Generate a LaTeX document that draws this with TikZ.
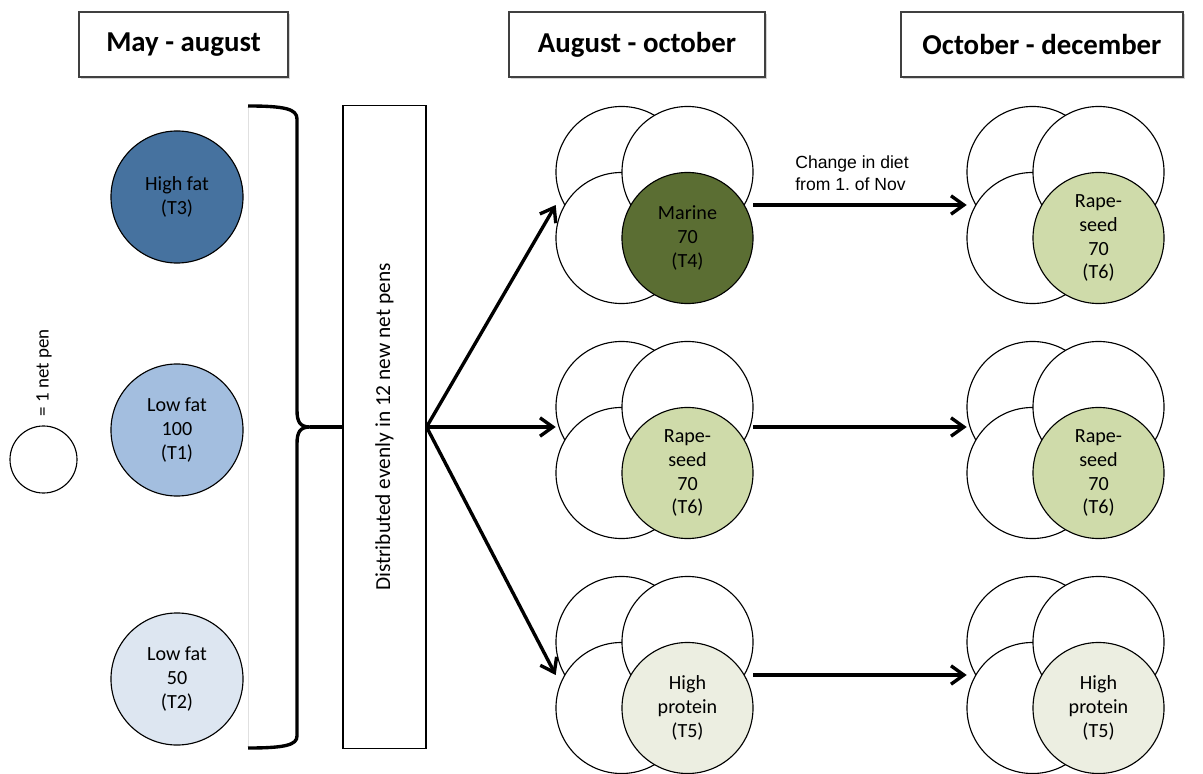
\documentclass[tikz,border=0pt]{standalone}
\usepackage{fontspec}
\setmainfont{Carlito}
\newfontfamily\arialfont{Liberation Sans}
\usepackage{tikz}
\usetikzlibrary{positioning, arrows.meta, calc, shadows}

\definecolor{hifat}{HTML}{46729F}
\definecolor{lofatA}{HTML}{A3BEDF}
\definecolor{lofatB}{HTML}{DDE6F1}
\definecolor{marine}{HTML}{5B6E33}
\definecolor{rapeseed}{HTML}{CFDBAA}
\definecolor{protein}{HTML}{ECEEE1}

% four net pens, the last one coloured
\newcommand{\netpens}[5]{%
    \begin{scope}[shift={(#2,#3)}]
        \node[pen] (#1a) at (-33,-33) {};
        \node[pen] (#1b) at (-33,33) {};
        \node[pen] (#1c) at (33,-33) {};
        \node[pen, fill=#4] (#1d) at (33,33) {#5};
    \end{scope}
    \node[cluster] (#1) at (#2,#3) {};
}

\begin{document}
\begin{tikzpicture}[x=0.025cm, y=-0.025cm,
    period/.style={draw=black!75, line width=0.8pt, fill=white, minimum height=1.625cm,
        font=\fontsize{20.5}{24}\selectfont\bfseries,
        drop shadow={shadow xshift=1.2pt, shadow yshift=-1.5pt, opacity=0.35}},
    diet/.style={circle, draw, line width=0.8pt, minimum size=3.3cm, inner sep=0pt,
        align=center, font=\fontsize{14.3}{17}\selectfont},
    pen/.style={circle, draw, line width=0.8pt, fill=white, minimum size=3.275cm, inner sep=0pt,
        align=center, font=\fontsize{14.3}{17}\selectfont},
    cluster/.style={minimum size=4.925cm, inner sep=0pt},
    feed/.style={line width=2.4pt, ->, >={Straight Barb[length=3.2mm,width=4.6mm]}},
    brace/.style={line width=2.4pt},
]
    \useasboundingbox (0,0) rectangle (1203,774);

    % ---------------- HEADERS ---------------- %
    \node[period, minimum width=5.225cm] (may) at (183.5,44.5) {May - august};
    \node[period, minimum width=6.4cm] (aug) at (637,44.5) {August - october};
    \node[period, minimum width=7.05cm] (oct) at (1042,44.5) {October - december};

    % ---------------- LEGEND ---------------- %
    \node[circle, draw, line width=0.8pt, minimum size=1.675cm] (legend) at (43.5,459.5) {};
    \node[rotate=90, font=\fontsize{13.5}{16}\selectfont] (legendtxt) at (44,373) {= 1 net pen};

    % ---------------- MAY - AUGUST ---------------- %
    \node[diet, fill=hifat] (t3) at (177,197) {High fat\\(T3)};
    \node[diet, fill=lofatA] (t1) at (177,430) {Low fat\\100\\(T1)};
    \node[diet, fill=lofatB] (t2) at (177,679) {Low fat\\50\\(T2)};

    % Brace
    \draw[black!12] (248,106) -- (248,748);
    \draw[brace] (248,106) .. controls (285,106) and (297,109) .. (297,119)
        -- (297,410) .. controls (297,422) and (300,427) .. (310,427) coordinate (tip)
        .. controls (300,427) and (297,432) .. (297,444)
        -- (297,736) .. controls (297,745) and (285,748) .. (248,748);

    % Distribution box
    \node[draw, line width=0.8pt, fill=white, minimum width=2.075cm, minimum height=16.05cm,
        drop shadow={shadow xshift=1pt, shadow yshift=-1pt, opacity=0.25}] (dist) at (384.5,427) {};
    \node[rotate=90, font=\fontsize{15.2}{18}\selectfont] (disttxt) at (dist.center) {Distributed evenly in 12 new net pens};
    \draw[brace] (tip) -- (dist.west);

    % ---------------- AUGUST - OCTOBER ---------------- %
    \netpens{augA}{654.5}{205}{marine}{Marine\\70\\(T4)}
    \netpens{augB}{654.5}{440}{rapeseed}{Rape-\\seed\\70\\(T6)}
    \netpens{augC}{654.5}{675}{protein}{High\\protein\\(T5)}

    \draw[feed] (dist.east) -- (augA.west);
    \draw[feed] (dist.east) -- (dist.east -| augB.west);
    \draw[feed] (dist.east) -- (augC.west);

    % ---------------- OCTOBER - DECEMBER ---------------- %
    \netpens{octA}{1065.5}{205}{rapeseed}{Rape-\\seed\\70\\(T6)}
    \netpens{octB}{1065.5}{440}{rapeseed}{Rape-\\seed\\70\\(T6)}
    \netpens{octC}{1065.5}{675}{protein}{High\\protein\\(T5)}

    \draw[feed] (augA.east) -- (octA.west)
        node[midway, above=6pt, xshift=-0.2cm, align=left, font=\arialfont\fontsize{12.5}{15.5}\selectfont] (change) {Change in diet\\from 1.\ of Nov};
    \draw[feed] (augB.east |- dist.east) -- (octB.west |- dist.east);
    \draw[feed] (augC.east) -- (octC.west);
\end{tikzpicture}
\end{document}
